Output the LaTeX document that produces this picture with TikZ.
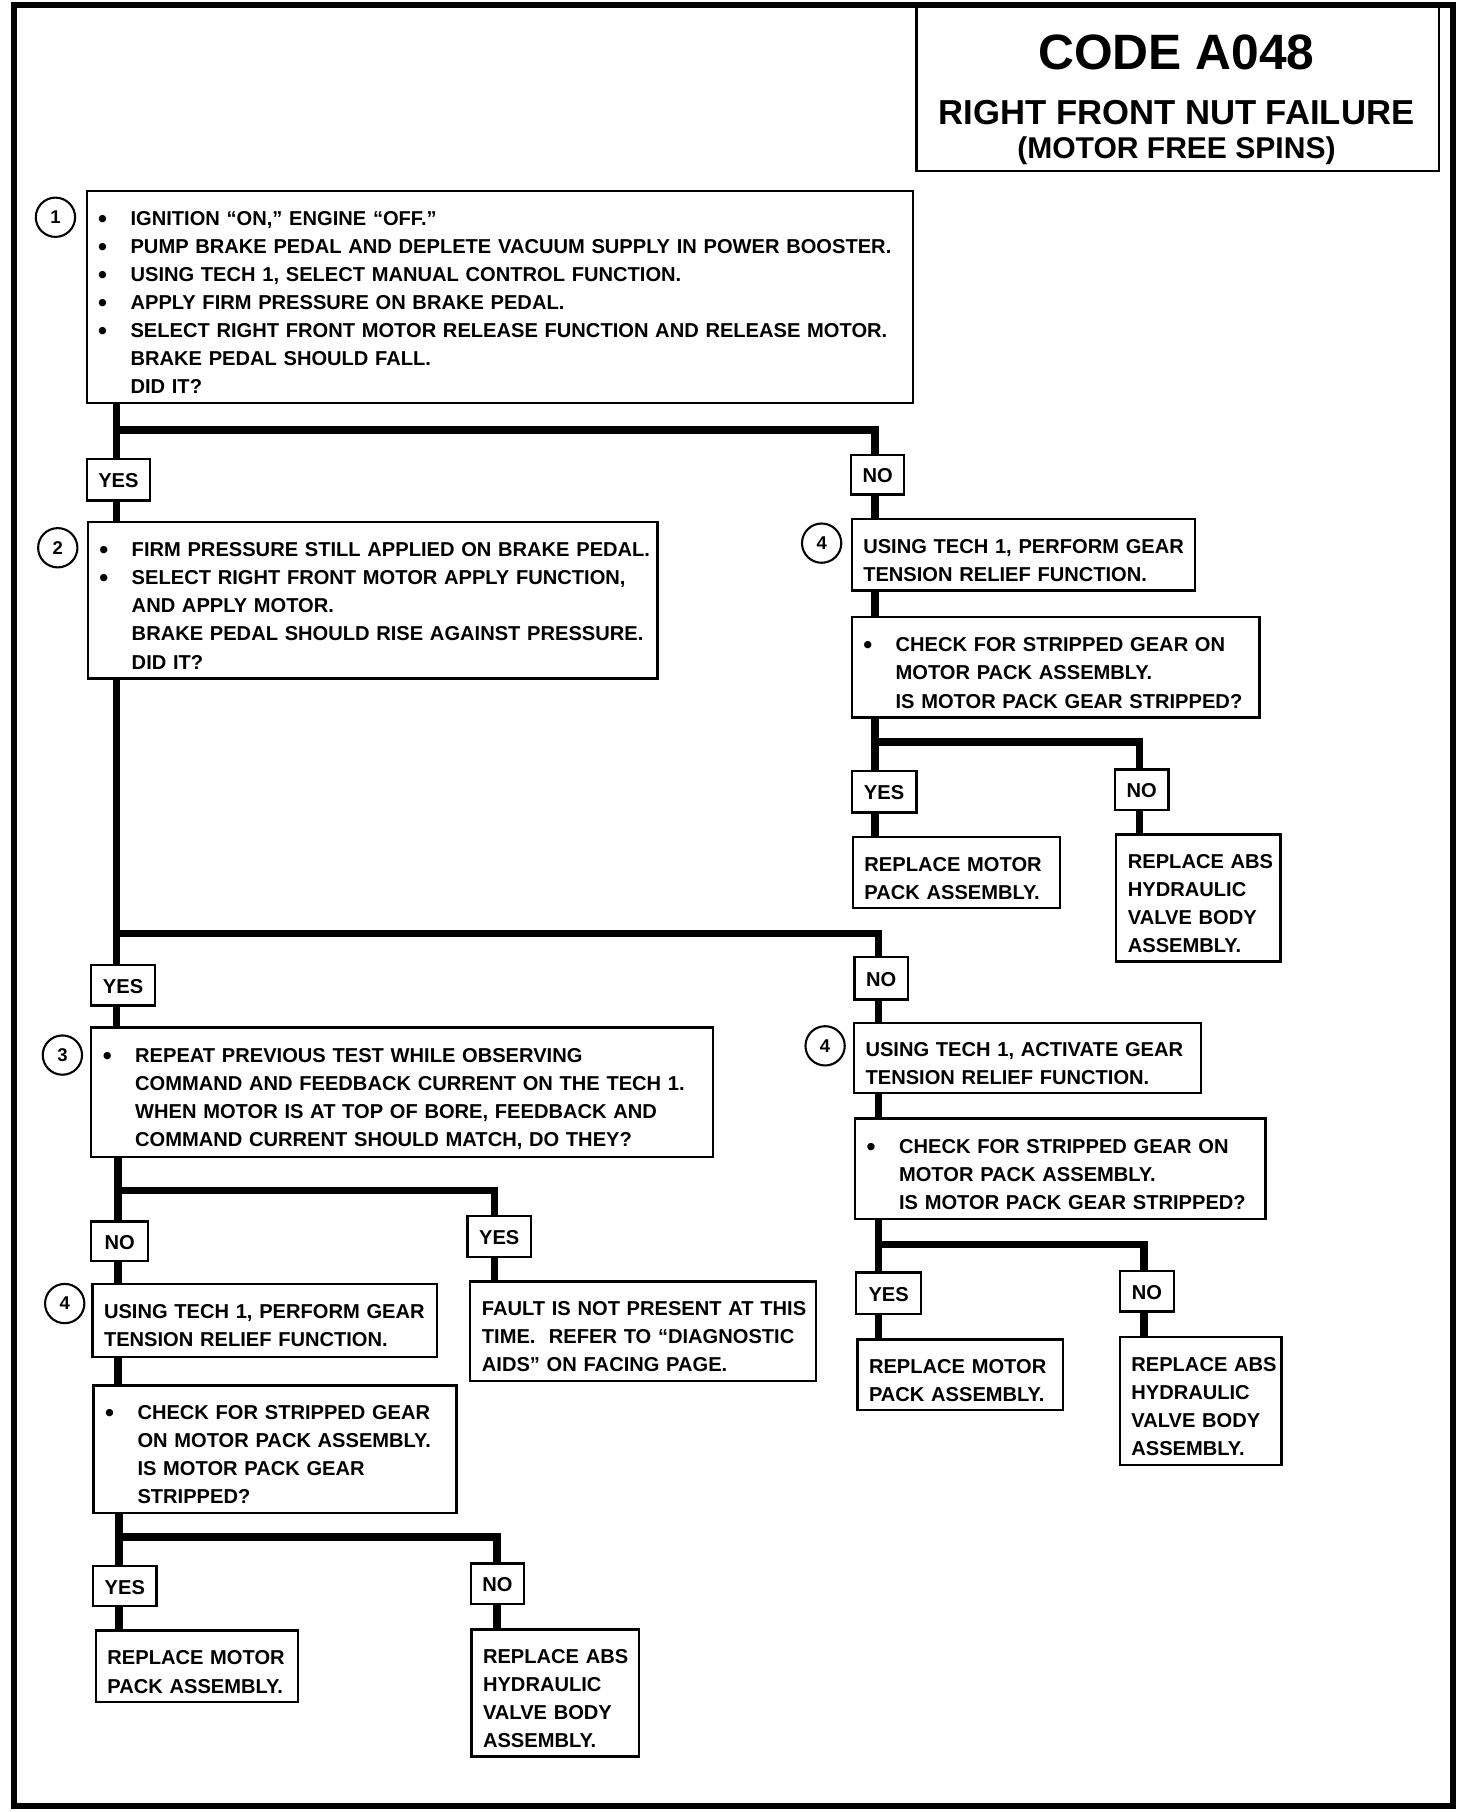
\documentclass[tikz,border=0pt]{standalone}
\usepackage{fontspec}
\setmainfont{Liberation Sans}
\newcommand\B{\makebox[14pt][l]{\raisebox{-0.8pt}{\fontsize{11}{11}\selectfont\textbullet}}}
\newcommand\I{\hspace*{14pt}}
\newcommand\bxr{3pt}
\newcommand\bx[7][]{%
  \pgfmathsetmacro\bxw{(#5-#3)*0.5}%
  \pgfmathsetmacro\bxh{(#6-#4)*0.5}%
  \pgfmathsetmacro\bxt{(#5-#3)*0.5-10}%
  \pgfmathsetmacro\bxx{(#3+#5)/2}%
  \pgfmathsetmacro\bxy{(#4+#6)/2}%
  \node[box,minimum width=\bxw pt,minimum height=\bxh pt,text width=\bxt pt,#1] (#2) at (\bxx,\bxy)
    {\noindent\raisebox{-\bxr}[\height][\depth]{\begin{tabular}{@{}l@{}}#7\end{tabular}}};}
\begin{document}
\begin{tikzpicture}[x=0.5pt,y=-0.5pt,
  box/.style={draw,line width=1pt,rectangle,inner xsep=5pt,inner ysep=0pt,align=left,
    font=\bfseries\fontsize{8.7}{12.15}\selectfont,/utils/exec={\def\bxr{3pt}}},
  lab/.style={text width={},align=center,/utils/exec={\def\bxr{1pt}}},
  num/.style={draw,circle,line width=0.9pt,minimum size=17pt,inner sep=0pt,
    font=\bfseries\fontsize{8}{9}\selectfont},
  conn/.style={line width=3.2pt},
  ttl/.style={anchor=base,inner sep=0pt,font=\bfseries\fontsize{#1}{#1}\selectfont}]
\useasboundingbox (0,0) rectangle (1274,1568);
% outer frame and title
\bx[lab,line width=2.5pt]{frame}{12}{4}{1257}{1563}{}
\bx[lab]{title}{793}{4}{1245}{148}{}
\node[ttl=21.5] (t1) at (1018,60) {CODE A048};
\node[ttl=15] (t2) at (1018,108) {RIGHT FRONT NUT FAILURE};
\node[ttl=13] (t3) at (1018,137) {(MOTOR FREE SPINS)};
% step numbers
\node[num] (c1) at (48,188) {1};
\node[num] (c2) at (50,474) {2};
\node[num] (c4a) at (711,470) {4};
\node[num] (c3) at (54,913) {3};
\node[num] (c4b) at (714,905) {4};
\node[num] (c4c) at (56,1128) {4};
% boxes
\bx{b1}{75}{165}{790}{349}{\B IGNITION “ON,” ENGINE “OFF.”\\
 \B PUMP BRAKE PEDAL AND DEPLETE VACUUM SUPPLY IN POWER BOOSTER.\\
 \B USING TECH 1, SELECT MANUAL CONTROL FUNCTION.\\
 \B APPLY FIRM PRESSURE ON BRAKE PEDAL.\\
 \B SELECT RIGHT FRONT MOTOR RELEASE FUNCTION AND RELEASE MOTOR.\\
 \I BRAKE PEDAL SHOULD FALL.\\
 \I DID IT?}
\bx[lab]{yes1}{75}{397}{130}{433}{YES}
\bx[lab]{no1}{737}{394}{782}{428}{NO}
\bx{b2}{76}{452}{569}{587}{\B FIRM PRESSURE STILL APPLIED ON BRAKE PEDAL.\\
 \B SELECT RIGHT FRONT MOTOR APPLY FUNCTION,\\
 \I AND APPLY MOTOR.\\
 \I BRAKE PEDAL SHOULD RISE AGAINST PRESSURE.\\
 \I DID IT?}
\bx{b4a}{737}{449}{1034}{511}{USING TECH 1, PERFORM GEAR\\ TENSION RELIEF FUNCTION.}
\bx{cka}{737}{534}{1090}{621}{\B CHECK FOR STRIPPED GEAR ON\\ \I MOTOR PACK ASSEMBLY.\\ \I IS MOTOR PACK GEAR STRIPPED?}
\bx[lab]{yesa}{737}{667}{793}{703}{YES}
\bx[lab]{noa}{966}{666}{1010}{701}{NO}
\bx{rma}{738}{724}{917}{786}{REPLACE MOTOR\\ PACK ASSEMBLY.}
\bx{raa}{966}{722}{1108}{832}{REPLACE ABS\\ HYDRAULIC\\ VALVE BODY\\ ASSEMBLY.}
\bx[lab]{yes2}{79}{835}{134}{870}{YES}
\bx[lab]{no2}{740}{828}{785}{865}{NO}
\bx{b3}{79}{889}{617}{1001}{\B REPEAT PREVIOUS TEST WHILE OBSERVING\\
 \I COMMAND AND FEEDBACK CURRENT ON THE TECH 1.\\
 \I WHEN MOTOR IS AT TOP OF BORE, FEEDBACK AND\\
 \I COMMAND CURRENT SHOULD MATCH, DO THEY?}
\bx[lab]{noc}{79}{1057}{128}{1091}{NO}
\bx[lab]{yesc}{405}{1052}{459}{1088}{YES}
\bx{b4c}{80}{1111}{378}{1174}{USING TECH 1, PERFORM GEAR\\ TENSION RELIEF FUNCTION.}
\bx{fault}{407}{1109}{706}{1195}{FAULT IS NOT PRESENT AT THIS\\ TIME.\ \ REFER TO “DIAGNOSTIC\\ AIDS” ON FACING PAGE.}
\bx{ckc}{81}{1199}{395}{1309}{\B CHECK FOR STRIPPED GEAR\\ \I ON MOTOR PACK ASSEMBLY.\\ \I IS MOTOR PACK GEAR\\ \I STRIPPED?}
\bx[lab]{yesd}{81}{1355}{135}{1390}{YES}
\bx[lab]{nod}{408}{1353}{453}{1388}{NO}
\bx{rmd}{83}{1411}{258}{1473}{REPLACE MOTOR\\ PACK ASSEMBLY.}
\bx{rad}{408}{1410}{553}{1520}{REPLACE ABS\\ HYDRAULIC\\ VALVE BODY\\ ASSEMBLY.}
\bx{b4b}{739}{885}{1039}{946}{USING TECH 1, ACTIVATE GEAR\\ TENSION RELIEF FUNCTION.}
\bx{ckb}{740}{968}{1095}{1055}{\B CHECK FOR STRIPPED GEAR ON\\ \I MOTOR PACK ASSEMBLY.\\ \I IS MOTOR PACK GEAR STRIPPED?}
\bx[lab]{yese}{741}{1101}{797}{1137}{YES}
\bx[lab]{noe}{969}{1100}{1016}{1135}{NO}
\bx{rme}{742}{1159}{920}{1220}{REPLACE MOTOR\\ PACK ASSEMBLY.}
\bx{rae}{969}{1157}{1109}{1268}{REPLACE ABS\\ HYDRAULIC\\ VALVE BODY\\ ASSEMBLY.}
% connectors
\coordinate (J1) at (101,372); \coordinate (K1) at (757,372);
\draw[conn] (b1.south -| J1) -- (yes1.north -| J1);
\draw[conn] (J1) -- (K1) -- (no1.north -| K1);
\draw[conn] (yes1.south -| J1) -- (b2.north -| J1);
\draw[conn] (no1.south -| K1) -- (b4a.north -| K1);
\draw[conn] (b4a.south -| K1) -- (cka.north -| K1);
\coordinate (JA) at (757,642); \coordinate (KA) at (986,642);
\draw[conn] (cka.south -| JA) -- (yesa.north -| JA);
\draw[conn] (JA) -- (KA) -- (noa.north -| KA);
\draw[conn] (yesa.south -| JA) -- (rma.north -| JA);
\draw[conn] (noa.south -| KA) -- (raa.north -| KA);
\coordinate (J2) at (101,808); \coordinate (K2) at (760,808);
\draw[conn] (b2.south -| J2) -- (yes2.north -| J2);
\draw[conn] (J2) -- (K2) -- (no2.north -| K2);
\draw[conn] (yes2.south -| J2) -- (b3.north -| J2);
\draw[conn] (no2.south -| K2) -- (b4b.north -| K2);
\draw[conn] (b4b.south -| K2) -- (ckb.north -| K2);
\coordinate (JE) at (760,1077); \coordinate (KE) at (990,1077);
\draw[conn] (ckb.south -| JE) -- (yese.north -| JE);
\draw[conn] (JE) -- (KE) -- (noe.north -| KE);
\draw[conn] (yese.south -| JE) -- (rme.north -| JE);
\draw[conn] (noe.south -| KE) -- (rae.north -| KE);
\coordinate (JC) at (102,1030); \coordinate (KC) at (428,1030);
\draw[conn] (b3.south -| JC) -- (noc.north -| JC);
\draw[conn] (JC) -- (KC) -- (yesc.north -| KC);
\draw[conn] (noc.south -| JC) -- (b4c.north -| JC);
\draw[conn] (yesc.south -| KC) -- (fault.north -| KC);
\draw[conn] (b4c.south -| JC) -- (ckc.north -| JC);
\coordinate (JD) at (103,1330); \coordinate (KD) at (430,1330);
\draw[conn] (ckc.south -| JD) -- (yesd.north -| JD);
\draw[conn] (JD) -- (KD) -- (nod.north -| KD);
\draw[conn] (yesd.south -| JD) -- (rmd.north -| JD);
\draw[conn] (nod.south -| KD) -- (rad.north -| KD);
\end{tikzpicture}
\end{document}
